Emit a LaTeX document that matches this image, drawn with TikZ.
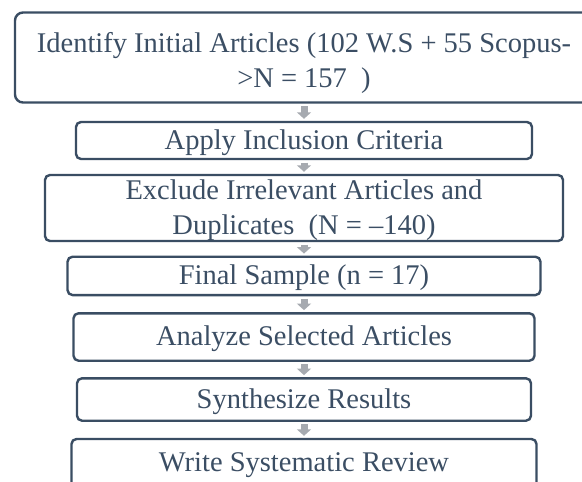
\documentclass[tikz,border=0pt]{standalone}
\usepackage{fontspec}
\setmainfont{Liberation Serif}
\usetikzlibrary{arrows.meta}
\definecolor{inkslate}{RGB}{59,78,100}
\definecolor{edgeslate}{RGB}{58,77,99}
\definecolor{flowgray}{RGB}{166,170,176}
\newcommand{\liftline}[1]{\rule{0pt}{#1}}
\tikzset{
  stage/.style={draw=edgeslate, line width=2.4pt, rounded corners=5pt,
    inner sep=0pt, align=center, text=inkslate,
    font=\fontsize{28.5}{35}\selectfont},
  oneline/.style={text height=21pt, text depth=4pt},
  flow/.style={draw=flowgray, line width=7pt,
    -{Triangle[width=14pt,length=6.5pt]},
    shorten <=2.5pt, shorten >=2pt}
}
\begin{document}
\begin{tikzpicture}[x=1pt,y=-1pt]
  \useasboundingbox (0,0) rectangle (582,482);
  \clip (0,0) rectangle (582,482);
  \fill[white] (0,0) rectangle (582,482);
  % process boxes, top to bottom
  \node[stage, rounded corners=8pt, minimum width=578pt, minimum height=90pt]
    (b1) at (304,57.5) {\liftline{31pt}Identify Initial Articles (102 W.S + 55 Scopus-\\>N = 157\ \ )};
  \node[stage, oneline, minimum width=456pt, minimum height=37pt]
    (b2) at (304,140.5) {Apply Inclusion Criteria};
  \node[stage, minimum width=518pt, minimum height=61pt]
    (b3) at (304,208) {\liftline{25pt}Exclude Irrelevant Articles and\\Duplicates\ \ (N = –140)};
  \node[stage, oneline, minimum width=473pt, minimum height=38.3pt]
    (b4) at (304,275.9) {Final Sample (n = 17)};
  \node[stage, oneline, minimum width=461pt, minimum height=47.4pt]
    (b5) at (304,337) {Analyze Selected Articles};
  \node[stage, oneline, minimum width=454pt, minimum height=42.4pt]
    (b6) at (304,399.5) {Synthesize Results};
  \node[stage, oneline, minimum width=465pt, minimum height=48.4pt]
    (b7) at (304,463.2) {Write Systematic Review};
  % gray block arrows between consecutive boxes
  \draw[flow] (b1.south) -- (b2.north);
  \draw[flow] (b2.south) -- (b3.north);
  \draw[flow] (b3.south) -- (b4.north);
  \draw[flow] (b4.south) -- (b5.north);
  \draw[flow] (b5.south) -- (b6.north);
  \draw[flow] (b6.south) -- (b7.north);
\end{tikzpicture}
\end{document}
